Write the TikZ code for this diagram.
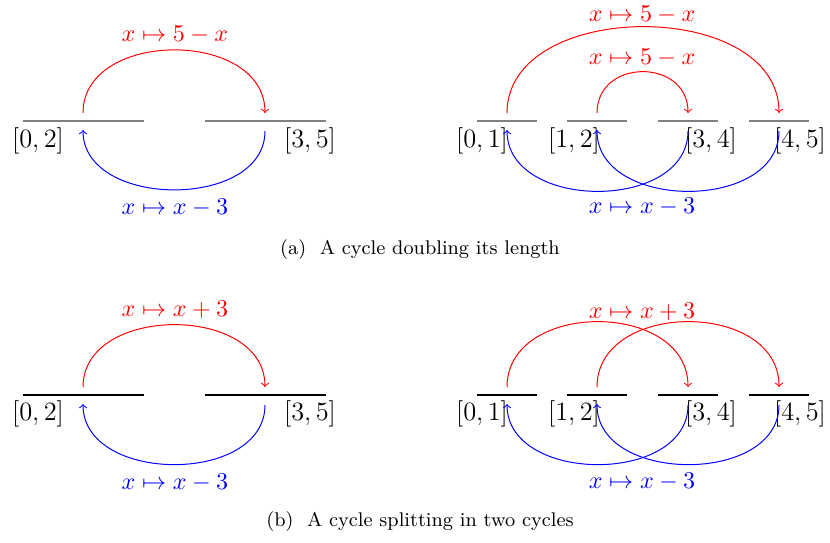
\documentclass[tikz,border=0pt]{standalone}
\begin{document}
\begin{tikzpicture}[x=0.4545pt,y=-0.4545pt,
  topseg/.style={gray,line width=0.9pt},
  botseg/.style={black,line width=0.7pt},
  redarc/.style={red,->,line width=0.45pt},
  bluearc/.style={blue,->,line width=0.45pt},
  lab/.style={font=\fontsize{12}{14}\selectfont,inner sep=0pt},
  maplab/.style={font=\fontsize{10.5}{12}\selectfont,inner sep=0pt},
  redlab/.style={maplab,text=red},
  bluelab/.style={maplab,text=blue},
  captext/.style={font=\small,inner sep=0pt}]
\useasboundingbox (0,0) rectangle (830,542);
% ===== (a) left =====
\coordinate (a1) at (23,121); \coordinate (a2) at (144,121);
\coordinate (a3) at (205,121); \coordinate (a4) at (326,121);
\draw[topseg] (a1) -- (a2); \draw[topseg] (a3) -- (a4);
\node[lab] (la1) at (38,141) {$[0,2]$};
\node[lab] (la2) at (310,141) {$[3,5]$};
\coordinate (ar1) at (83,113); \coordinate (ar2) at (265,113);
\draw[redarc] (ar1) .. controls +(0,-84) and +(0,-84) .. (ar2);
\node[redlab] (ra1) at (175,35) {$x\mapsto 5-x$};
\coordinate (ab1) at (265,131); \coordinate (ab2) at (83,130);
\draw[bluearc] (ab1) .. controls +(0,79) and +(0,79) .. (ab2);
\node[bluelab] (ba1) at (175,208) {$x\mapsto x-3$};
% ===== (a) right =====
\coordinate (c1) at (477,121); \coordinate (c2) at (537,121);
\coordinate (c3) at (567,121); \coordinate (c4) at (627,121);
\coordinate (c5) at (658,121); \coordinate (c6) at (718,121);
\coordinate (c7) at (749,121); \coordinate (c8) at (809,121);
\draw[topseg] (c1) -- (c2); \draw[topseg] (c3) -- (c4);
\draw[topseg] (c5) -- (c6); \draw[topseg] (c7) -- (c8);
\node[lab] (lc1) at (482,141) {$[0,1]$};
\node[lab] (lc2) at (574,141) {$[1,2]$};
\node[lab] (lc3) at (711,141) {$[3,4]$};
\node[lab] (lc4) at (800,141) {$[4,5]$};
\coordinate (cr1) at (507,113); \coordinate (cr2) at (779,113);
\coordinate (cr3) at (597,113); \coordinate (cr4) at (688,113);
\draw[redarc] (cr1) .. controls +(0,-115) and +(0,-115) .. (cr2);
\draw[redarc] (cr3) .. controls +(0,-55) and +(0,-55) .. (cr4);
\node[redlab] (rc1) at (642,15) {$x\mapsto 5-x$};
\node[redlab] (rc2) at (642,58) {$x\mapsto 5-x$};
\coordinate (cb1) at (688,131); \coordinate (cb2) at (507,130);
\coordinate (cb3) at (779,131); \coordinate (cb4) at (597,130);
\draw[bluearc] (cb1) .. controls +(0,81) and +(0,81) .. (cb2);
\draw[bluearc] (cb3) .. controls +(0,81) and +(0,81) .. (cb4);
\node[bluelab] (bc1) at (642,207) {$x\mapsto x-3$};
\node[captext] (capa) at (420,250) {(a)\ \ A cycle doubling its length};
% ===== (b) left =====
\coordinate (d1) at (23,395); \coordinate (d2) at (144,395);
\coordinate (d3) at (205,395); \coordinate (d4) at (326,395);
\draw[botseg] (d1) -- (d2); \draw[botseg] (d3) -- (d4);
\node[lab] (ld1) at (38,414) {$[0,2]$};
\node[lab] (ld2) at (310,414) {$[3,5]$};
\coordinate (dr1) at (83,387); \coordinate (dr2) at (265,387);
\draw[redarc] (dr1) .. controls +(0,-83) and +(0,-83) .. (dr2);
\node[redlab] (rd1) at (175,310) {$x\mapsto x+3$};
\coordinate (db1) at (265,405); \coordinate (db2) at (83,404);
\draw[bluearc] (db1) .. controls +(0,80) and +(0,80) .. (db2);
\node[bluelab] (bd1) at (175,483) {$x\mapsto x-3$};
% ===== (b) right =====
\coordinate (e1) at (477,395); \coordinate (e2) at (537,395);
\coordinate (e3) at (567,395); \coordinate (e4) at (627,395);
\coordinate (e5) at (658,395); \coordinate (e6) at (718,395);
\coordinate (e7) at (749,395); \coordinate (e8) at (809,395);
\draw[botseg] (e1) -- (e2); \draw[botseg] (e3) -- (e4);
\draw[botseg] (e5) -- (e6); \draw[botseg] (e7) -- (e8);
\node[lab] (le1) at (482,414) {$[0,1]$};
\node[lab] (le2) at (574,414) {$[1,2]$};
\node[lab] (le3) at (711,414) {$[3,4]$};
\node[lab] (le4) at (800,414) {$[4,5]$};
\coordinate (er1) at (507,387); \coordinate (er2) at (688,387);
\coordinate (er3) at (597,387); \coordinate (er4) at (779,387);
\draw[redarc] (er1) .. controls +(0,-87) and +(0,-87) .. (er2);
\draw[redarc] (er3) .. controls +(0,-87) and +(0,-87) .. (er4);
\node[redlab] (re1) at (642,312) {$x\mapsto x+3$};
\coordinate (eb1) at (688,405); \coordinate (eb2) at (507,404);
\coordinate (eb3) at (779,405); \coordinate (eb4) at (597,404);
\draw[bluearc] (eb1) .. controls +(0,80) and +(0,80) .. (eb2);
\draw[bluearc] (eb3) .. controls +(0,80) and +(0,80) .. (eb4);
\node[bluelab] (be1) at (642,482) {$x\mapsto x-3$};
\node[captext] (capb) at (420,522) {(b)\ \ A cycle splitting in two cycles};
\end{tikzpicture}
\end{document}
